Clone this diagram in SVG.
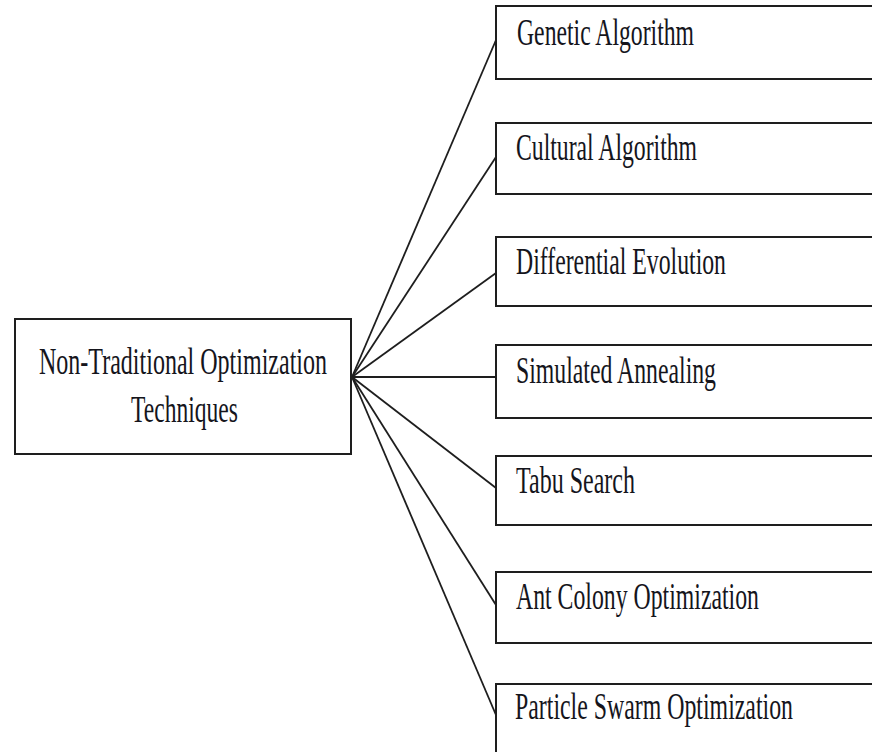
<svg xmlns="http://www.w3.org/2000/svg" width="872" height="752" viewBox="0 0 872 752">
  <style>
    .box { fill: #ffffff; stroke: #1e1e1e; stroke-width: 2; }
    .lbl { font-family: "Liberation Serif", "Times New Roman", serif; font-size: 37px; fill: #15151c; }
    .mid { text-anchor: middle; }
    .edge { stroke: #1e1e1e; stroke-width: 1.8; fill: none; }
  </style>
  <rect width="872" height="752" fill="#ffffff"/>

  <g id="connectors">
    <line class="edge" x1="352" y1="377" x2="496" y2="40"/>
    <line class="edge" x1="352" y1="377" x2="496" y2="157"/>
    <line class="edge" x1="352" y1="377" x2="496" y2="273"/>
    <line class="edge" x1="352" y1="377" x2="496" y2="377"/>
    <line class="edge" x1="352" y1="377" x2="496" y2="488"/>
    <line class="edge" x1="352" y1="377" x2="496" y2="605"/>
    <line class="edge" x1="352" y1="377" x2="496" y2="715"/>
  </g>

  <g id="root">
    <rect class="box" x="15" y="319" width="336" height="135"/>
    <text class="lbl mid" x="183" y="374" textLength="288" lengthAdjust="spacingAndGlyphs">Non-Traditional Optimization</text>
    <text class="lbl mid" x="184.5" y="422" textLength="107" lengthAdjust="spacingAndGlyphs">Techniques</text>
  </g>

  <g id="genetic-algorithm">
    <rect class="box" x="496" y="6" width="390" height="73"/>
    <text class="lbl" x="517" y="45" textLength="177" lengthAdjust="spacingAndGlyphs">Genetic Algorithm</text>
  </g>

  <g id="cultural-algorithm">
    <rect class="box" x="496" y="123" width="390" height="71"/>
    <text class="lbl" x="516" y="160" textLength="181" lengthAdjust="spacingAndGlyphs">Cultural Algorithm</text>
  </g>

  <g id="differential-evolution">
    <rect class="box" x="496" y="237" width="390" height="69"/>
    <text class="lbl" x="516" y="274" textLength="210" lengthAdjust="spacingAndGlyphs">Differential Evolution</text>
  </g>

  <g id="simulated-annealing">
    <rect class="box" x="496" y="345" width="390" height="73"/>
    <text class="lbl" x="516" y="383" textLength="200" lengthAdjust="spacingAndGlyphs">Simulated Annealing</text>
  </g>

  <g id="tabu-search">
    <rect class="box" x="496" y="456" width="390" height="69"/>
    <text class="lbl" x="516" y="493" textLength="119" lengthAdjust="spacingAndGlyphs">Tabu Search</text>
  </g>

  <g id="ant-colony-optimization">
    <rect class="box" x="496" y="572" width="390" height="71"/>
    <text class="lbl" x="516" y="609" textLength="243" lengthAdjust="spacingAndGlyphs">Ant Colony Optimization</text>
  </g>

  <g id="particle-swarm-optimization">
    <rect class="box" x="496" y="684" width="390" height="80"/>
    <text class="lbl" x="515" y="719" textLength="278" lengthAdjust="spacingAndGlyphs">Particle Swarm Optimization</text>
  </g>
</svg>
